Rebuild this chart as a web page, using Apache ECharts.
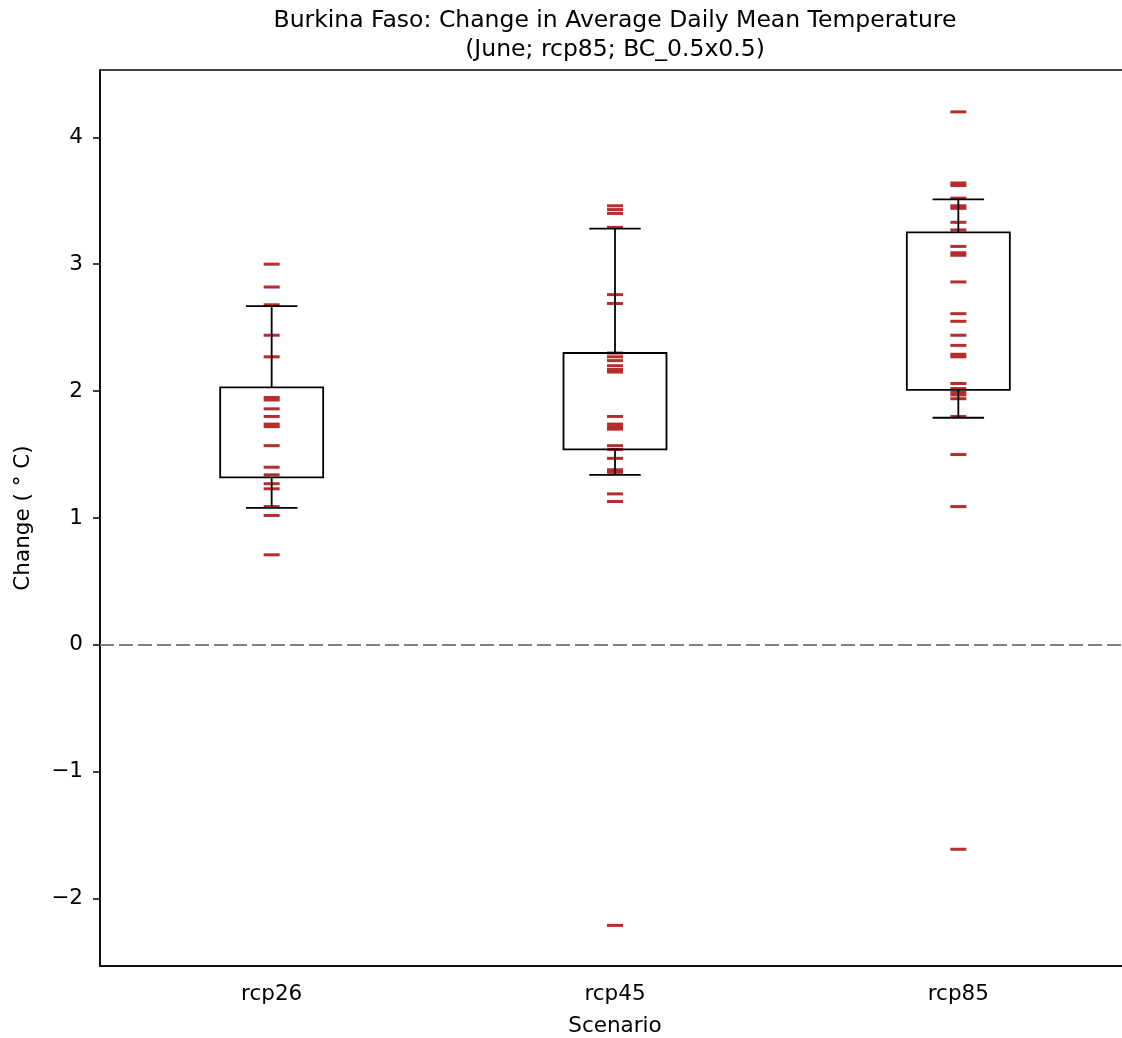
<!DOCTYPE html>
<html>
<head>
<meta charset="utf-8">
<script src="https://cdn.jsdelivr.net/npm/echarts@6/dist/echarts.min.js"></script>
<style>
  html, body { margin: 0; padding: 0; background: #fff; overflow: hidden; }
  #chart { width: 1122px; height: 1038px; }
</style>
</head>
<body>
<div id="chart"></div>
<script>
// ---- data ----
var scenarios = ['rcp26', 'rcp45', 'rcp85'];
var rcp26Values = [3.00, 2.82, 2.68, 2.44, 2.27, 1.95, 1.93, 1.86, 1.80, 1.74, 1.72, 1.57, 1.40, 1.34, 1.27, 1.23, 1.09, 1.02, 0.71];
var rcp45Values = [3.46, 3.43, 3.40, 3.29, 2.76, 2.69, 2.30, 2.27, 2.24, 2.20, 2.17, 2.15, 1.80, 1.74, 1.72, 1.70, 1.57, 1.54, 1.47, 1.38, 1.36, 1.19, 1.13, -2.21];
var rcp85Values = [4.20, 3.64, 3.62, 3.52, 3.46, 3.44, 3.33, 3.27, 3.14, 3.09, 3.07, 2.86, 2.61, 2.55, 2.44, 2.36, 2.29, 2.27, 2.06, 2.02, 1.99, 1.97, 1.94, 1.80, 1.50, 1.09, -1.61];
// box stats: [whiskerLow, q1, q3, whiskerHigh]
var boxRcp26 = [1.08, 1.32, 2.03, 2.67];
var boxRcp45 = [1.34, 1.54, 2.30, 3.28];
var boxRcp85 = [1.79, 2.01, 3.25, 3.51];
var yTicks = [-2, -1, 0, 1, 2, 3, 4];
var yMin = -2.53, yMax = 4.53;

var FONT = 'DejaVu Sans';
var allValues = [rcp26Values, rcp45Values, rcp85Values];
var allBoxes = [boxRcp26, boxRcp45, boxRcp85];

var scatterData = [];
allValues.forEach(function (arr, i) {
  arr.forEach(function (v) { scatterData.push([i, v]); });
});
var boxData = allBoxes.map(function (b, i) { return [i, b[0], b[1], b[2], b[3]]; });

function renderBox(params, api) {
  var idx = api.value(0);
  var band = api.size([1, 0])[0];
  var boxW = band * 0.3, capW = band * 0.15;
  var pLow = api.coord([idx, api.value(1)]);
  var pQ1 = api.coord([idx, api.value(2)]);
  var pQ3 = api.coord([idx, api.value(3)]);
  var pHigh = api.coord([idx, api.value(4)]);
  var x = pQ1[0];
  var st = { stroke: '#000', lineWidth: 1.8, fill: null };
  return {
    type: 'group',
    children: [
      { type: 'rect', shape: { x: x - boxW / 2, y: pQ3[1], width: boxW, height: pQ1[1] - pQ3[1] }, style: { stroke: '#000', lineWidth: 1.8, fill: 'rgba(0,0,0,0)' } },
      { type: 'line', shape: { x1: x, y1: pQ1[1], x2: x, y2: pLow[1] }, style: st },
      { type: 'line', shape: { x1: x, y1: pQ3[1], x2: x, y2: pHigh[1] }, style: st },
      { type: 'line', shape: { x1: x - capW / 2, y1: pLow[1], x2: x + capW / 2, y2: pLow[1] }, style: st },
      { type: 'line', shape: { x1: x - capW / 2, y1: pHigh[1], x2: x + capW / 2, y2: pHigh[1] }, style: st }
    ]
  };
}

var chart = echarts.init(document.getElementById('chart'), null, { renderer: 'canvas' });
chart.setOption({
  animation: false,
  backgroundColor: '#fff',
  textStyle: { fontFamily: FONT },
  title: {
    text: 'Burkina Faso: Change in Average Daily Mean Temperature\n(June; rcp85; BC_0.5x0.5)',
    left: 610,
    textAlign: 'center',
    top: 1,
    textStyle: { fontFamily: FONT, fontSize: 23.5, fontWeight: 'normal', color: '#000', lineHeight: 29 }
  },
  grid: {
    left: 100, top: 70, height: 896, width: 1030,
    outerBoundsMode: 'none',
    containLabel: false,
    show: true, borderColor: '#000', borderWidth: 1.5, backgroundColor: 'transparent'
  },
  xAxis: {
    type: 'category',
    data: scenarios,
    boundaryGap: true,
    name: 'Scenario',
    nameLocation: 'middle',
    nameGap: 49,
    nameTextStyle: { fontFamily: FONT, fontSize: 21.5, color: '#000' },
    axisLine: { onZero: false, lineStyle: { color: '#000', width: 1.5 } },
    axisTick: { alignWithLabel: true, length: 7, lineStyle: { color: '#000', width: 1.5 } },
    axisLabel: { fontFamily: FONT, fontSize: 21.5, color: '#000', margin: 17 },
    splitLine: { show: false }
  },
  yAxis: {
    type: 'value',
    min: yMin,
    max: yMax,
    name: 'Change ( ° C)',
    nameLocation: 'middle',
    nameGap: 66,
    nameTextStyle: { fontFamily: FONT, fontSize: 21.5, color: '#000' },
    axisLine: { show: true, onZero: false, lineStyle: { color: '#000', width: 1.5 } },
    axisTick: { show: true, length: 7, customValues: yTicks, lineStyle: { color: '#000', width: 1.5 } },
    axisLabel: {
      fontFamily: FONT, fontSize: 21.5, color: '#000', margin: 17,
      customValues: yTicks,
      formatter: function (v) { return v < 0 ? '\u2212' + Math.abs(v) : String(v); }
    },
    splitLine: { show: false }
  },
  series: [
    {
      type: 'scatter',
      data: scatterData,
      symbol: 'rect',
      symbolSize: [16, 3],
      itemStyle: { color: '#b22222', opacity: 0.95 },
      z: 2,
      markLine: {
        silent: true,
        symbol: ['none', 'none'],
        label: { show: false },
        lineStyle: { color: '#808080', type: [14, 5], width: 2 },
        data: [{ yAxis: 0 }]
      }
    },
    {
      type: 'custom',
      renderItem: renderBox,
      data: boxData,
      encode: { x: 0, y: [1, 2, 3, 4] },
      z: 3
    }
  ]
});
</script>
</body>
</html>
